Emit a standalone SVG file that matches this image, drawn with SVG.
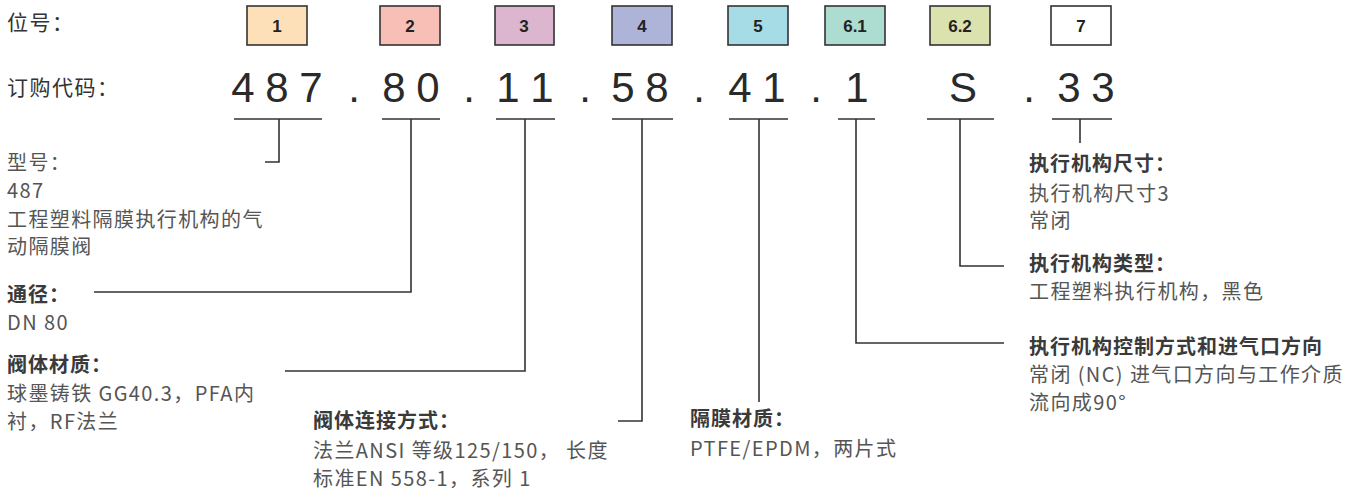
<svg xmlns="http://www.w3.org/2000/svg" width="1357" height="495" viewBox="0 0 1357 495">
<style>
.box{stroke:#333;stroke-width:1.6}
.bn{font-family:"Liberation Sans Narrow","Liberation Sans",Arial,sans-serif;font-weight:bold;font-size:17px;fill:#222;text-anchor:middle}
.code{font-family:"Liberation Sans",Arial,sans-serif;font-size:42px;fill:#2a2a2a;text-anchor:middle}
.hd{font-family:"Noto Sans CJK SC",sans-serif;font-size:21px;fill:#333;letter-spacing:1.5px}
.t{font-family:"Noto Sans CJK SC",sans-serif;font-size:20px;fill:#555;letter-spacing:1.4px}
.b{font-family:"Noto Sans CJK SC",sans-serif;font-size:20px;fill:#3a3a3a;font-weight:bold;letter-spacing:1px}
.ln{fill:none;stroke:#333;stroke-width:1.6}
</style>
<rect width="1357" height="495" fill="#fff"/>
<g id="row-labels">
<text class="hd" x="7" y="30">位号：</text>
<text class="hd" x="7" y="95">订购代码：</text>
</g>
<g id="box-1"><rect class="box" x="247" y="6" width="60" height="39" fill="#fde0b8"/><text class="bn" x="277" y="32">1</text></g>
<g id="box-2"><rect class="box" x="380" y="6" width="60" height="39" fill="#f8bfb6"/><text class="bn" x="410" y="32">2</text></g>
<g id="box-3"><rect class="box" x="495" y="6" width="59" height="39" fill="#dcb6ce"/><text class="bn" x="524" y="32">3</text></g>
<g id="box-4"><rect class="box" x="612" y="6" width="60" height="39" fill="#aeb4d8"/><text class="bn" x="642" y="32">4</text></g>
<g id="box-5"><rect class="box" x="728" y="6" width="60" height="39" fill="#a6dce6"/><text class="bn" x="758" y="32">5</text></g>
<g id="box-6-1"><rect class="box" x="825" y="6" width="60" height="39" fill="#addcd0"/><text class="bn" x="855" y="32">6.1</text></g>
<g id="box-6-2"><rect class="box" x="930" y="6" width="60" height="39" fill="#dbe2ad"/><text class="bn" x="960" y="32">6.2</text></g>
<g id="box-7"><rect class="box" x="1051" y="6" width="60" height="39" fill="#ffffff"/><text class="bn" x="1081" y="32">7</text></g>
<g id="order-code">
<text class="code" y="102"><tspan x="243">4</tspan><tspan x="277">8</tspan><tspan x="311">7</tspan><tspan x="354">.</tspan><tspan x="394">8</tspan><tspan x="428">0</tspan><tspan x="469">.</tspan><tspan x="508">1</tspan><tspan x="542">1</tspan><tspan x="585">.</tspan><tspan x="623">5</tspan><tspan x="657">8</tspan><tspan x="699">.</tspan><tspan x="740">4</tspan><tspan x="774">1</tspan><tspan x="816">.</tspan><tspan x="857">1</tspan><tspan x="963">S</tspan><tspan x="1029">.</tspan><tspan x="1069">3</tspan><tspan x="1103">3</tspan></text>
</g>
<g id="connectors">
<path class="ln" d="M234 119H322M279 119V162H265"/>
<path class="ln" d="M382 119H440M411 119V292H94"/>
<path class="ln" d="M496 119H555M525 119V371H285"/>
<path class="ln" d="M612 119H673M642 119V421H618"/>
<path class="ln" d="M729 119H788M759 119V402"/>
<path class="ln" d="M838 119H875M856 119V343H1004"/>
<path class="ln" d="M927 119H994M960 119V266H1004"/>
<path class="ln" d="M1052 119H1112M1080 119V143"/>
</g>
<g id="desc-1">
<text class="t" x="7" y="170">型号：</text>
<text class="t" x="7" y="198">487</text>
<text class="t" x="7" y="227">工程塑料隔膜执行机构的气</text>
<text class="t" x="7" y="254">动隔膜阀</text>
</g>
<g id="desc-2">
<text class="b" x="7" y="302">通径：</text>
<text class="t" x="7" y="330">DN 80</text>
</g>
<g id="desc-3">
<text class="b" x="7" y="372">阀体材质：</text>
<text class="t" x="7" y="401">球墨铸铁 GG40.3，PFA内</text>
<text class="t" x="7" y="429">衬，RF法兰</text>
</g>
<g id="desc-4">
<text class="b" x="313" y="428">阀体连接方式：</text>
<text class="t" x="313" y="458">法兰ANSI 等级125/150， 长度</text>
<text class="t" x="313" y="486">标准EN 558-1，系列 1</text>
</g>
<g id="desc-5">
<text class="b" x="690" y="426">隔膜材质：</text>
<text class="t" x="690" y="456">PTFE/EPDM，两片式</text>
</g>
<g id="desc-6-1">
<text class="b" x="1029" y="354">执行机构控制方式和进气口方向</text>
<text class="t" x="1029" y="382">常闭 (NC) 进气口方向与工作介质</text>
<text class="t" x="1029" y="410">流向成90°</text>
</g>
<g id="desc-6-2">
<text class="b" x="1029" y="271">执行机构类型：</text>
<text class="t" x="1029" y="299">工程塑料执行机构，黑色</text>
</g>
<g id="desc-7">
<text class="b" x="1029" y="171">执行机构尺寸：</text>
<text class="t" x="1029" y="201">执行机构尺寸3</text>
<text class="t" x="1029" y="228">常闭</text>
</g>
</svg>
